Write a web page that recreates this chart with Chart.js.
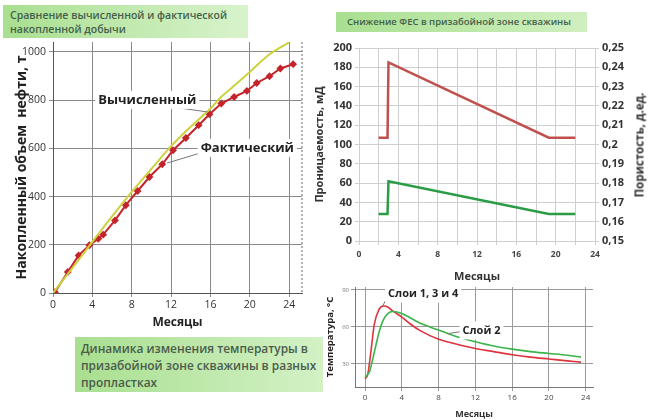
<!DOCTYPE html>
<html><head><meta charset="utf-8">
<script src="https://cdn.jsdelivr.net/npm/chart.js@4/dist/chart.umd.min.js"></script>
<style>
html,body{margin:0;padding:0;background:#fff;width:650px;height:420px;overflow:hidden;font-family:"Open Sans",sans-serif}
.box{position:absolute;color:#44604a;font-weight:600;box-sizing:border-box;white-space:nowrap}
canvas{position:absolute}
.rt{position:absolute;white-space:nowrap;transform:translate(-50%,-50%) rotate(-90deg);font-weight:bold;color:#333}
</style></head><body>
<div class="box" style="left:3px;top:5px;width:245px;height:33px;background:linear-gradient(to right,#a9df90,#d8f3cc);font-size:10.5px;line-height:14px;padding:3px 0 0 7px">Сравнение вычисленной и фактической<br>накопленной добычи</div>
<div class="box" style="left:336px;top:12px;width:251px;height:20px;background:linear-gradient(to right,#a9df90,#d0efc0);font-size:9.5px;line-height:20px;padding-left:11px">Снижение ФЕС в призабойной зоне скважины</div>
<div class="box" style="left:75px;top:337px;width:248px;height:55px;background:linear-gradient(to right,#a9df90,#d3f1c5);font-size:11.9px;line-height:17px;padding:3px 0 0 6px;color:#4a5c4c">Динамика изменения температуры в<br>призабойной зоне скважины в разных<br>пропластках</div>
<canvas id="c1" style="left:0;top:30px" width="310" height="300"></canvas>
<canvas id="c2" style="left:305px;top:38px" width="345" height="245"></canvas>
<canvas id="c3" style="left:310px;top:280px" width="340" height="140"></canvas>
<div class="rt" style="left:639px;top:145px;font-size:11.5px">Пористость, д.ед.</div>
<script>
// ---- Chart 1: cumulative production
const calcMonths = [0,2,4,6,8,10,12,14,16,17,18,20,22,24];
const calcValues = [0,105,212,318,419,515,609,690,765,810,845,917,990,1040];
const factMonths = [0.2,1.5,2.6,3.7,4.6,5.1,6.3,7.4,8.6,9.8,11.1,12.2,13.5,14.8,15.9,17.1,18.4,19.7,20.7,22.0,23.1,24.4];
const factValues = [3,87,156,198,225,242,301,364,423,481,534,592,643,696,741,786,813,838,871,899,931,949];
const xTicks1 = [0,4,8,12,16,20,24];
const yTicks1 = [0,200,400,600,800,1000];
// ---- Chart 2: permeability / porosity
const fesMonths = [2,2.9,3,19.3,22];
const permValues = [107,107,185,107,107];
const poroValues = [0.164,0.164,0.181,0.164,0.164];
// ---- Chart 3: temperature
const tRedMonths = [0,0.3,0.6,1,1.5,2,2.5,3,4,5,6,8,10,12,14,16,18,20,22,23.5];
const tRedValues = [18,22,38,62,74,77,76,73,68,62,57,50,46,42.5,40,37.5,35.5,34,32.5,31.5];
const tGreenMonths = [0,0.5,0.8,1.2,1.6,2,2.5,3,4,5,6,8,10,12,14,16,18,20,22,23.5];
const tGreenValues = [19,24,33,46,58,66,71,72.5,71,67,63,57.5,52,48,44.5,42,40,38.5,37,35.5];
const xTicks3 = [0,4,8,12,16,20,24];
const yTicks3 = [30,60,90];

const pts = (xs, ys) => xs.map((x,i)=>({x, y: ys[i]}));
const fixW = w => s => { s.width = w; };
const fixH = h => s => { s.height = h; };
const setTicks = arr => s => { s.ticks = arr.map(v=>({value:v})); };

const notesPlugin = {
  id:'notes',
  afterDatasetsDraw(chart, args, opts){
    const ctx = chart.ctx, xs = chart.scales.x, ys = chart.scales.y;
    (opts.items||[]).forEach(n=>{
      ctx.save();
      ctx.strokeStyle = '#777'; ctx.lineWidth = 1;
      ctx.beginPath();
      ctx.moveTo(xs.getPixelForValue(n.l[0]), ys.getPixelForValue(n.l[1]));
      ctx.lineTo(xs.getPixelForValue(n.l[2]), ys.getPixelForValue(n.l[3]));
      ctx.stroke();
      const tx = xs.getPixelForValue(n.x), ty = ys.getPixelForValue(n.y);
      ctx.font = n.font; ctx.textBaseline = 'middle'; ctx.textAlign='left';
      const w = ctx.measureText(n.text).width;
      ctx.fillStyle = '#fff'; ctx.fillRect(tx-3, ty-9, w+6, 18);
      ctx.fillStyle = '#222'; ctx.fillText(n.text, tx, ty);
      ctx.restore();
    });
    if (opts.rightBorder){
      const a = chart.chartArea;
      ctx.save(); ctx.strokeStyle='#666'; ctx.setLineDash([2,2]); ctx.beginPath();
      ctx.moveTo(a.right, a.top); ctx.lineTo(a.right, a.bottom); ctx.stroke(); ctx.restore();
    }
  }
};
Chart.register(notesPlugin);

new Chart(document.getElementById('c1'), {
  type:'line',
  data:{datasets:[
    {data:pts(calcMonths,calcValues), borderColor:'#cdd23c', borderWidth:2, pointRadius:0, cubicInterpolationMode:'monotone'},
    {data:pts(factMonths,factValues), borderColor:'#c4242b', backgroundColor:'#c4242b', borderWidth:2, pointRadius:2.5, pointStyle:'rectRot'}
  ]},
  options:{responsive:false, animation:false,
    layout:{padding:{top:12,right:8,left:14,bottom:0}},
    plugins:{legend:{display:false}, tooltip:{enabled:false},
      notes:{rightBorder:true, items:[
        {text:'Вычисленный', x:4.6, y:801, l:[10.6,780,15.7,751], font:'bold 13px "Open Sans"'},
        {text:'Фактический', x:15.0, y:602, l:[15.0,581,11.6,539], font:'bold 13px "Open Sans"'}
      ]}},
    scales:{
      x:{type:'linear', min:0, max:25.3, afterBuildTicks:setTicks(xTicks1), afterFit:fixH(37),
        grid:{color:'#8a8a8a', tickLength:4}, border:{color:'#555'},
        ticks:{color:'#333', font:{size:10.5, family:'Open Sans'}, padding:2, maxRotation:0},
        title:{display:true, text:'Месяцы', color:'#222', font:{size:12, weight:'bold', family:'Open Sans'}, padding:{top:0,bottom:0}}},
      y:{min:0, max:1041, afterBuildTicks:setTicks(yTicks1), afterFit:fixW(39),
        grid:{color:'#8a8a8a', tickLength:4}, border:{color:'#555'},
        ticks:{color:'#333', font:{size:10.5, family:'Open Sans'}, padding:3, callback:v=>String(v)},
        title:{display:true, text:'Накопленный объем  нефти, т', color:'#222', font:{size:14, weight:'bold', family:'Open Sans'}, padding:{top:0,bottom:0}}}
    }}
});

new Chart(document.getElementById('c2'), {
  type:'line',
  data:{datasets:[
    {data:pts(fesMonths,permValues), yAxisID:'y', borderColor:'#c0504d', borderWidth:2.5, pointRadius:0, tension:0},
    {data:pts(fesMonths,poroValues), yAxisID:'y1', borderColor:'#2a9c46', borderWidth:2.5, pointRadius:0, tension:0}
  ]},
  options:{responsive:false, animation:false,
    layout:{padding:{top:10,right:0,left:8,bottom:0}},
    plugins:{legend:{display:false}, tooltip:{enabled:false}},
    scales:{
      x:{type:'linear', min:0, max:24, afterFit:fixH(42),
        grid:{color:'#cfcfcf', tickLength:4}, border:{color:'#cfcfcf'},
        ticks:{stepSize:2, color:'#444', font:{size:8.5, weight:'bold', family:'Open Sans'}, padding:4, maxRotation:0, autoSkip:false,
          callback:v => v%4===0 ? String(v) : ''},
        title:{display:true, text:'Месяцы', color:'#333', font:{size:11, weight:'bold', family:'Open Sans'}, padding:{top:0,bottom:0}}},
      y:{position:'left', min:0, max:200, afterFit:fixW(46),
        grid:{color:'#cfcfcf', tickLength:4}, border:{color:'#cfcfcf'},
        ticks:{stepSize:20, color:'#333', font:{size:11, weight:'bold', family:'Open Sans'}, padding:3},
        title:{display:true, text:'Проницаемость, мД', color:'#333', font:{size:11, weight:'bold', family:'Open Sans'}, padding:{top:0,bottom:0}}},
      y1:{position:'right', min:0.15, max:0.25, afterFit:fixW(55),
        grid:{drawOnChartArea:false, color:'#cfcfcf', tickLength:4}, border:{color:'#cfcfcf'},
        ticks:{stepSize:0.01, color:'#333', font:{size:11, weight:'bold', family:'Open Sans'}, padding:3,
          callback:v => String(Number(v.toFixed(2))).replace('.',',')},
        title:{display:false}}
    }}
});

new Chart(document.getElementById('c3'), {
  type:'line',
  data:{datasets:[
    {data:pts(tGreenMonths,tGreenValues), borderColor:'#3bb54a', borderWidth:1.6, pointRadius:0, cubicInterpolationMode:'monotone'},
    {data:pts(tRedMonths,tRedValues), borderColor:'#de3440', borderWidth:1.6, pointRadius:0, cubicInterpolationMode:'monotone'}
  ]},
  options:{responsive:false, animation:false,
    layout:{padding:{top:7,right:57,left:15,bottom:0}},
    plugins:{legend:{display:false}, tooltip:{enabled:false},
      notes:{items:[
        {text:'Слои 1, 3 и 4', x:2.5, y:87, l:[2.5,85,1.9,77], font:'bold 11px "Open Sans"'},
        {text:'Слой 2', x:10.6, y:57.2, l:[10.6,56.4,8.9,54.5], font:'bold 11px "Open Sans"'}
      ]}},
    scales:{
      x:{type:'linear', min:-1.1, max:24.8, afterBuildTicks:setTicks(xTicks3), afterFit:fixH(33),
        grid:{color:'#9a9a9a', tickLength:4}, border:{color:'#777'},
        ticks:{color:'#444', font:{size:8, family:'Open Sans'}, padding:2, maxRotation:0},
        title:{display:true, text:'Месяцы', color:'#333', font:{size:9, weight:'bold', family:'Open Sans'}, padding:{top:0,bottom:0}}},
      y:{min:11.3, max:92.4, afterBuildTicks:setTicks(yTicks3), afterFit:fixW(30),
        grid:{color:'#9a9a9a', tickLength:4}, border:{color:'#777'},
        ticks:{color:'#777', font:{size:6, family:'Open Sans'}, padding:2},
        title:{display:true, text:'Температура, °С', color:'#222', font:{size:9.5, weight:'bold', family:'Open Sans'}, padding:{top:0,bottom:0}}}
    }}
});
</script>
</body></html>
